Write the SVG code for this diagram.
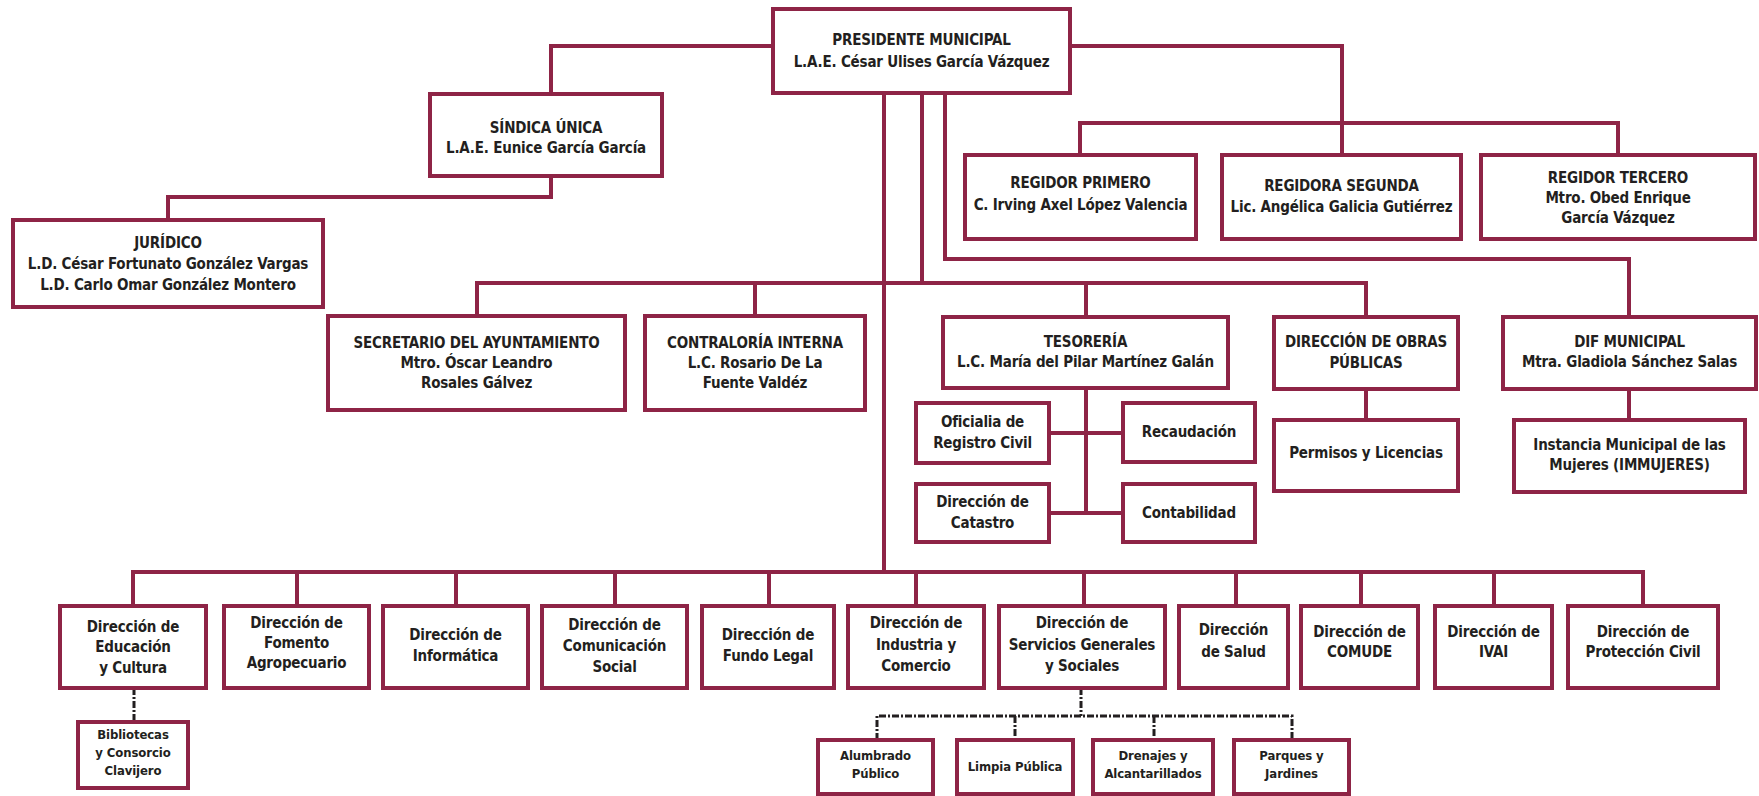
<svg xmlns="http://www.w3.org/2000/svg" width="1759" height="796" viewBox="0 0 1759 796">
<style>
.box{fill:#fff;stroke:#8e2446;stroke-width:4}
.ln{fill:none;stroke:#8e2446;stroke-width:4}
.dash{fill:none;stroke:#231f20;stroke-width:3;stroke-dasharray:7 2 2 2}
text{font-family:'Liberation Sans Narrow','DejaVu Sans Condensed','Liberation Sans',sans-serif;font-weight:bold;font-size:15px;letter-spacing:-0.2px;fill:#231f20;text-anchor:middle}
.s{font-size:13px;letter-spacing:-0.1px}
</style>
<rect width="1759" height="796" fill="#fff"/>
<g id="connectors">
<path class="ln" d="M773,46 H551 V94"/>
<path class="ln" d="M551,176 V197 H168 V220"/>
<path class="ln" d="M1070,46 H1342 V155"/>
<path class="ln" d="M1080,155 V123 H1618 V155"/>
<path class="ln" d="M884,93 V572"/>
<path class="ln" d="M133,606 V572 H1643 V606"/>
<path class="ln" d="M297,572 V606 M456,572 V606 M615,572 V606 M769,572 V606 M916,572 V606 M1084,572 V606 M1236,572 V606 M1361,572 V606 M1494,572 V606"/>
<path class="ln" d="M922,93 V283"/>
<path class="ln" d="M477,316 V283 H1366 V317"/>
<path class="ln" d="M755,283 V316 M1086,283 V317"/>
<path class="ln" d="M945,93 V259 H1629 V317"/>
<path class="ln" d="M1366,389 V420"/>
<path class="ln" d="M1629,389 V420"/>
<path class="ln" d="M1086,388 V513 M1049,433 H1123 M1049,513 H1123"/>
<path class="dash" d="M134,688 V722"/>
<path class="dash" d="M1081,688 V716"/>
<path class="dash" d="M877,740 V716 H1292 V740 M1015,716 V740 M1154,716 V740"/>
</g>
<g id="presidente"><rect class="box" x="773" y="9" width="297" height="84"/><text x="921.5" y="45">PRESIDENTE MUNICIPAL</text><text x="921.5" y="67">L.A.E. César Ulises García Vázquez</text></g>
<g id="sindica"><rect class="box" x="430" y="94" width="232" height="82"/><text x="546" y="133">SÍNDICA ÚNICA</text><text x="546" y="153">L.A.E. Eunice García García</text></g>
<g id="juridico"><rect class="box" x="13" y="220" width="310" height="87"/><text x="168" y="248">JURÍDICO</text><text x="168" y="269">L.D. César Fortunato González Vargas</text><text x="168" y="290">L.D. Carlo Omar González Montero</text></g>
<g id="regidor1"><rect class="box" x="965" y="155" width="231" height="84"/><text x="1080.5" y="188">REGIDOR PRIMERO</text><text x="1080.5" y="210">C. Irving Axel López Valencia</text></g>
<g id="regidora2"><rect class="box" x="1222" y="155" width="239" height="84"/><text x="1341.5" y="191">REGIDORA SEGUNDA</text><text x="1341.5" y="212">Lic. Angélica Galicia Gutiérrez</text></g>
<g id="regidor3"><rect class="box" x="1481" y="155" width="274" height="84"/><text x="1618" y="183">REGIDOR TERCERO</text><text x="1618" y="203">Mtro. Obed Enrique</text><text x="1618" y="223">García Vázquez</text></g>
<g id="secretario"><rect class="box" x="328" y="316" width="297" height="94"/><text x="476.5" y="348">SECRETARIO DEL AYUNTAMIENTO</text><text x="476.5" y="368">Mtro. Óscar Leandro</text><text x="476.5" y="388">Rosales Gálvez</text></g>
<g id="contraloria"><rect class="box" x="645" y="316" width="220" height="94"/><text x="755" y="348">CONTRALORÍA INTERNA</text><text x="755" y="368">L.C. Rosario De La</text><text x="755" y="388">Fuente Valdéz</text></g>
<g id="tesoreria"><rect class="box" x="943" y="317" width="285" height="71"/><text x="1085.5" y="347">TESORERÍA</text><text x="1085.5" y="367">L.C. María del Pilar Martínez Galán</text></g>
<g id="obras"><rect class="box" x="1274" y="317" width="184" height="72"/><text x="1366" y="347">DIRECCIÓN DE OBRAS</text><text x="1366" y="368">PÚBLICAS</text></g>
<g id="dif"><rect class="box" x="1503" y="317" width="253" height="72"/><text x="1629.5" y="347">DIF MUNICIPAL</text><text x="1629.5" y="367">Mtra. Gladiola Sánchez Salas</text></g>
<g id="oficialia"><rect class="box" x="916" y="403" width="133" height="60"/><text x="982.5" y="427">Oficialia de</text><text x="982.5" y="448">Registro Civil</text></g>
<g id="recaudacion"><rect class="box" x="1123" y="403" width="132" height="59"/><text x="1189" y="437">Recaudación</text></g>
<g id="catastro"><rect class="box" x="916" y="484" width="133" height="58"/><text x="982.5" y="507">Dirección de</text><text x="982.5" y="528">Catastro</text></g>
<g id="contabilidad"><rect class="box" x="1123" y="484" width="132" height="58"/><text x="1189" y="518">Contabilidad</text></g>
<g id="permisos"><rect class="box" x="1274" y="420" width="184" height="71"/><text x="1366" y="458">Permisos y Licencias</text></g>
<g id="instancia"><rect class="box" x="1514" y="420" width="231" height="72"/><text x="1629.5" y="450">Instancia Municipal de las</text><text x="1629.5" y="470">Mujeres (IMMUJERES)</text></g>
<g id="educacion"><rect class="box" x="60" y="606" width="146" height="82"/><text x="133" y="632">Dirección de</text><text x="133" y="652">Educación</text><text x="133" y="673">y Cultura</text></g>
<g id="fomento"><rect class="box" x="224" y="606" width="145" height="82"/><text x="296.5" y="628">Dirección de</text><text x="296.5" y="648">Fomento</text><text x="296.5" y="668">Agropecuario</text></g>
<g id="informatica"><rect class="box" x="383" y="606" width="145" height="82"/><text x="455.5" y="640">Dirección de</text><text x="455.5" y="661">Informática</text></g>
<g id="comunicacion"><rect class="box" x="542" y="606" width="145" height="82"/><text x="614.5" y="630">Dirección de</text><text x="614.5" y="651">Comunicación</text><text x="614.5" y="672">Social</text></g>
<g id="fundo"><rect class="box" x="702" y="606" width="132" height="82"/><text x="768" y="640">Dirección de</text><text x="768" y="661">Fundo Legal</text></g>
<g id="industria"><rect class="box" x="848" y="606" width="136" height="82"/><text x="916" y="628">Dirección de</text><text x="916" y="650">Industria y</text><text x="916" y="671">Comercio</text></g>
<g id="servicios"><rect class="box" x="999" y="606" width="166" height="82"/><text x="1082" y="628">Dirección de</text><text x="1082" y="650">Servicios Generales</text><text x="1082" y="671">y Sociales</text></g>
<g id="salud"><rect class="box" x="1179" y="606" width="109" height="82"/><text x="1233.5" y="635">Dirección</text><text x="1233.5" y="657">de Salud</text></g>
<g id="comude"><rect class="box" x="1301" y="606" width="117" height="82"/><text x="1359.5" y="637">Dirección de</text><text x="1359.5" y="657">COMUDE</text></g>
<g id="ivai"><rect class="box" x="1435" y="606" width="117" height="82"/><text x="1493.5" y="637">Dirección de</text><text x="1493.5" y="657">IVAI</text></g>
<g id="proteccion"><rect class="box" x="1568" y="606" width="150" height="82"/><text x="1643" y="637">Dirección de</text><text x="1643" y="657">Protección Civil</text></g>
<g id="bibliotecas"><rect class="box" x="78" y="722" width="110" height="66"/><text class="s" x="133" y="739">Bibliotecas</text><text class="s" x="133" y="757">y Consorcio</text><text class="s" x="133" y="775">Clavijero</text></g>
<g id="alumbrado"><rect class="box" x="818" y="740" width="115" height="54"/><text class="s" x="875.5" y="760">Alumbrado</text><text class="s" x="875.5" y="778">Público</text></g>
<g id="limpia"><rect class="box" x="957" y="740" width="116" height="54"/><text class="s" x="1015" y="771">Limpia Pública</text></g>
<g id="drenajes"><rect class="box" x="1093" y="740" width="120" height="54"/><text class="s" x="1153" y="760">Drenajes y</text><text class="s" x="1153" y="778">Alcantarillados</text></g>
<g id="parques"><rect class="box" x="1234" y="740" width="115" height="54"/><text class="s" x="1291.5" y="760">Parques y</text><text class="s" x="1291.5" y="778">Jardines</text></g>
</svg>
